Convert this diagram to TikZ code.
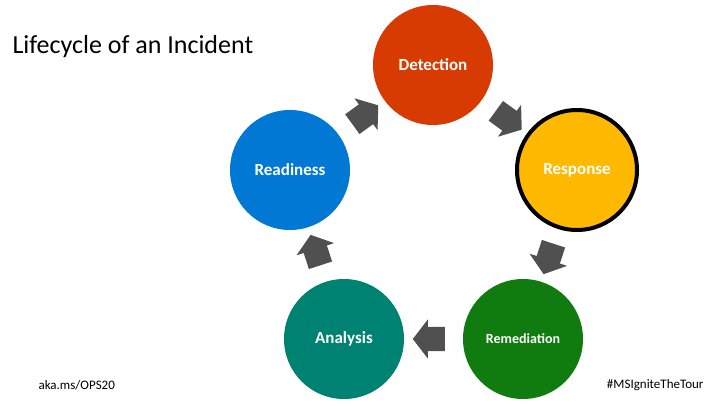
\documentclass[tikz,border=0pt]{standalone}
\usepackage{fontspec}
\setmainfont{Carlito}
\usetikzlibrary{shapes.arrows,calc}
\definecolor{detect}{HTML}{D83B01}
\definecolor{respond}{HTML}{FFB900}
\definecolor{remedy}{HTML}{107C10}
\definecolor{analyse}{HTML}{008272}
\definecolor{ready}{HTML}{0078D4}
\definecolor{arrgray}{HTML}{505050}
\begin{document}
\begin{tikzpicture}[x=1pt,y=1pt,
        phase/.style={circle,minimum size=120pt,inner sep=0pt,text=white,
            font=\bfseries\fontsize{17}{19}\selectfont},
        blockarr/.style={single arrow,fill=arrgray,inner xsep=0pt,inner ysep=12pt,
            minimum height=32pt,single arrow head extend=7.5pt,
            single arrow tip angle=105,single arrow head indent=0pt}]
        \useasboundingbox[fill=white] (0,0) rectangle (720,405);
        % phases of the cycle
        \node[phase,fill=detect] (det) at (433,340) {Detection};
        \node[phase,fill=respond,draw=black,line width=4pt] (resp) at (577,235) {Response};
        \node[phase,fill=remedy,font=\bfseries\fontsize{14}{16}\selectfont] (rem) at (523,66) {Remediation};
        \node[phase,fill=analyse] (ana) at (344,66) {Analysis};
        \node[phase,fill=ready] (rdy) at (290,235) {Readiness};
        % block arrows between the phases
        \foreach \a/\b/\r in {det/resp/-36,resp/rem/-108,rem/ana/180,ana/rdy/108,rdy/det/36}
        \node[blockarr,rotate=\r] (\a-\b) at ($(\a)!0.5!(\b)$) {};
        % texts
        \node[anchor=west,font=\fontsize{26}{30}\selectfont] (title) at (9,358) {Lifecycle of an Incident};
        \node[anchor=west,font=\fontsize{13}{15}\selectfont] (link) at (35,20) {aka.ms/OPS20};
        \node[anchor=east,font=\fontsize{13}{15}\selectfont] (tag) at (707,20) {\#MSIgniteTheTour};
    \end{tikzpicture}
\end{document}
